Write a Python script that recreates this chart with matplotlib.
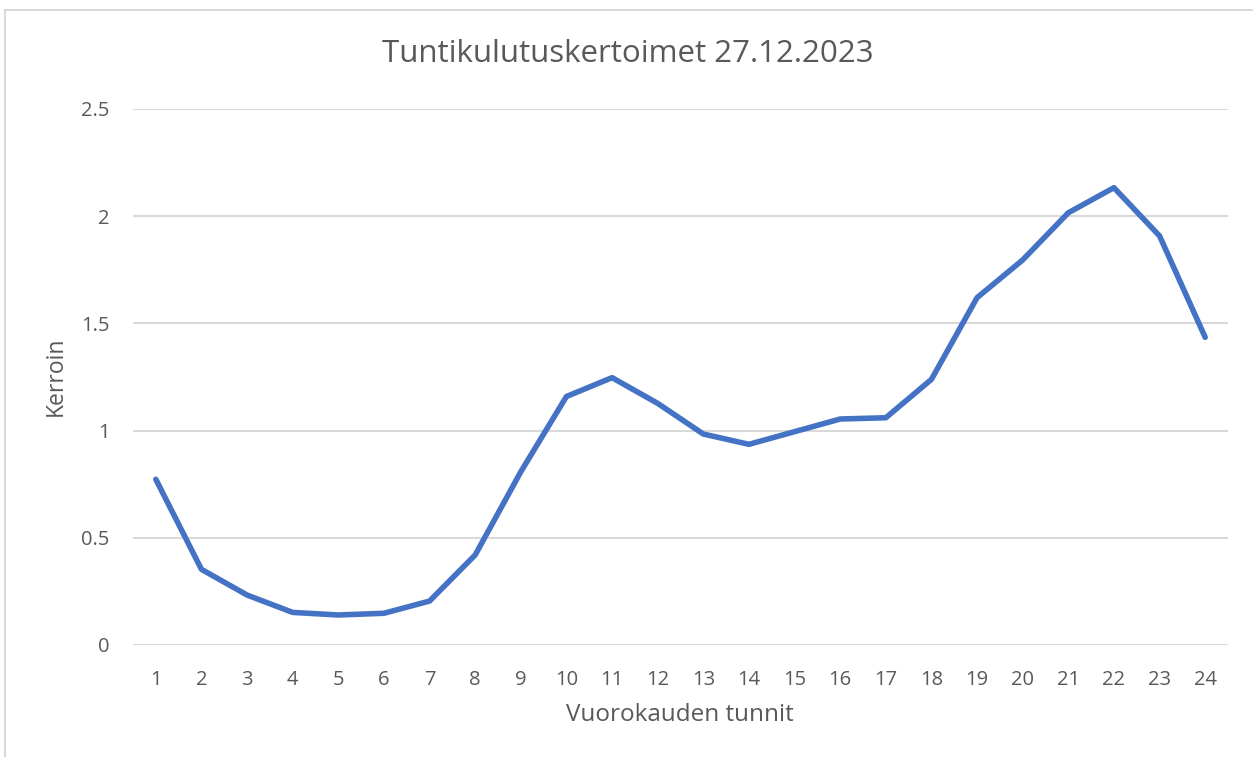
import matplotlib.pyplot as plt
from matplotlib.patches import Rectangle

# tunnit ja kertoimet luettu kuvasta
hours = list(range(1, 25))
coeffs = [0.773, 0.353, 0.233, 0.152, 0.140, 0.148, 0.205, 0.420,
          0.808, 1.159, 1.247, 1.127, 0.984, 0.936, 0.995, 1.054,
          1.060, 1.239, 1.620, 1.796, 2.016, 2.133, 1.908, 1.435]
yticks = [0, 0.5, 1, 1.5, 2, 2.5]
ytick_labels = ['0', '0.5', '1', '1.5', '2', '2.5']

txt = '#595959'
plt.rcParams['font.family'] = ['Open Sans', 'DejaVu Sans']

fig = plt.figure(figsize=(12.53, 7.57), dpi=100)
W, H = 1253, 757
# axes placed in pixel coords of the reference
left, right, top, bottom = 133, 1228, 109, 645
ax = fig.add_axes([left / W, 1 - bottom / H, (right - left) / W, (bottom - top) / H])

# outer chart border (screenshot edge)
fig.patches.append(Rectangle((5 / W, -0.1), 1.2, (1 - 10 / H) + 0.1, transform=fig.transFigure,
                             fill=False, edgecolor='#D9D9D9', linewidth=1.5))

ax.plot(hours, coeffs, color='#4472C4', linewidth=4, solid_joinstyle='round',
        solid_capstyle='round', zorder=3)

ax.set_xlim(0.5, 24.5)
ax.set_ylim(0, 2.5)
ax.set_yticks(yticks)
ax.set_yticklabels(ytick_labels)
ax.set_xticks(hours)
ax.set_xticklabels([str(h) for h in hours])
ax.yaxis.grid(True, color='#D9D9D9', linewidth=1.5)
ax.set_axisbelow(True)
for s in ax.spines.values():
    s.set_visible(False)
ax.tick_params(axis='both', length=0, colors=txt, labelsize=14.5)
ax.tick_params(axis='y', pad=17)
ax.tick_params(axis='x', pad=18)

fig.text(628 / W, 1 - 54 / H, 'Tuntikulutuskertoimet 27.12.2023', ha='center', va='center',
         fontsize=22.5, color=txt)
fig.text(56 / W, 1 - 376 / H, 'Kerroin', rotation=90, ha='center', va='center',
         fontsize=16.5, color=txt)
fig.text(680 / W, 1 - 715 / H, 'Vuorokauden tunnit', ha='center', va='center',
         fontsize=17.5, color=txt)

fig.savefig('out.png', dpi=100)
